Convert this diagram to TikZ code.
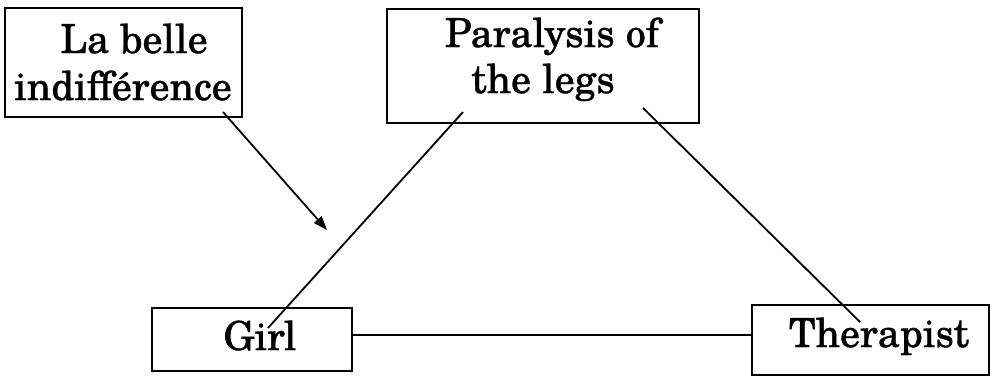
\documentclass[tikz,border=0pt]{standalone}
\usepackage{fontspec}
\setmainfont{texgyreschola-regular.otf}[FakeBold=0.8]
\usetikzlibrary{arrows.meta}
\begin{document}
\begin{tikzpicture}[x=1pt,y=-1pt,
  box/.style={draw,line width=2pt,inner sep=0pt},
  txt/.style={inner sep=0pt,anchor=base,font=\fontsize{40}{46}\selectfont},
  link/.style={line width=1.8pt}]
\useasboundingbox (0,0) rectangle (995,376);
% boxes
\node[box,minimum width=237,minimum height=109] (belle) at (123.5,62.5) {};
\node[box,minimum width=312,minimum height=114] (para) at (543,66) {};
\node[box,minimum width=200,minimum height=63] (girl) at (252,339.5) {};
\node[box,minimum width=237,minimum height=70] (ther) at (870.5,340) {};
% labels
\node[txt] (belleA) at (134,53) {La belle};
\node[txt] (belleB) at (123,100) {indifférence};
\node[txt] (paraA) at (552,47) {Paralysis of};
\node[txt] (paraB) at (543,93) {the legs};
\node[txt] (girlT) at (260,350) {Girl};
\node[txt] (therT) at (879,347) {Therapist};
% connectors
\coordinate (pl) at (463,112);
\coordinate (gl) at (268,328);
\coordinate (pr) at (643,108);
\coordinate (tr) at (860,322);
\coordinate (ge) at (352,335);
\coordinate (tw) at (752,335);
\coordinate (as) at (223,112);
\coordinate (ae) at (327,230);
\draw[link] (pl) -- (gl);
\draw[link] (pr) -- (tr);
\draw[link] (ge) -- (tw);
\draw[link,-{Triangle[length=14pt,width=10pt]}] (as) -- (ae);
\end{tikzpicture}
\end{document}
